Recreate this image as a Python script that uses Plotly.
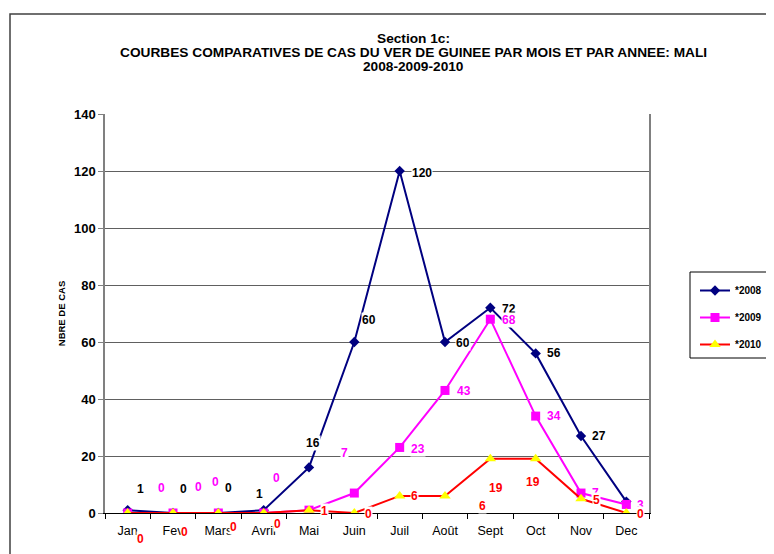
import plotly.graph_objects as go

months = ["Jan", "Fev", "Mars", "Avril", "Mai", "Juin", "Juil", "Août", "Sept", "Oct", "Nov", "Dec"]
cases_2008 = [1, 0, 0, 1, 16, 60, 120, 60, 72, 56, 27, 4]
cases_2009 = [0, 0, 0, 0, 1, 7, 23, 43, 68, 34, 7, 3]
cases_2010 = [0, 0, 0, 0, 1, 0, 6, 6, 19, 19, 5, 0]
series_names = ["*2008", "*2009", "*2010"]
y_ticks = [0, 20, 40, 60, 80, 100, 120, 140]
title_lines = ["Section 1c:",
               "COURBES COMPARATIVES DE CAS DU VER DE GUINEE PAR MOIS ET PAR ANNEE: MALI",
               "2008-2009-2010"]

# label pixel offsets (dx right, dy down); None = label hidden
off_2008 = [(13, -21), (10, -24), (10, -25), (-4, -16), (4, -24), (15, -22),
            (22, 2), (18, 1), (19, 1), (18, 0), (18, 0), None]
off_2009 = [(34, -25), (25, -26), (-3, -31), (13, -35), None, (-10, -40),
            (18, 2), (19, 1), (19, 1), (18, 0), (14, 0), (14, 1)]
off_2010 = [(13, 26), (11, 19), (15, 14), (14, 11), (15, 1), (14, 1),
            (15, 0), (37, 10), (6, 29), (-3, 23), (15, 1), (14, 1)]

FONT = "Liberation Sans, Arial, sans-serif"

# page body margin offset of the html
OFF = 8
FW, FH = 774 - OFF, 554 - OFF

fig = go.Figure()
fig.add_trace(go.Scatter(x=months, y=cases_2008, name=series_names[0], mode="lines+markers",
                         line=dict(color="#000080", width=2),
                         marker=dict(symbol="diamond", size=8, color="#000080"),
                         legendgroup="a"))
fig.add_trace(go.Scatter(x=months, y=cases_2009, name=series_names[1], mode="lines+markers",
                         line=dict(color="#FF00FF", width=2),
                         marker=dict(symbol="square", size=9, color="#FF00FF"),
                         legendgroup="b"))
fig.add_trace(go.Scatter(x=months, y=cases_2010, name=series_names[2], mode="lines+markers",
                         line=dict(color="#FF0000", width=2),
                         marker=dict(symbol="triangle-up", size=10, color="#FFFF00"),
                         legendgroup="c"))

# plot area in screen px: x 105..649, y 114..513
L, R, T, B = 105, 649, 114, 513
W, H = R - L, B - T
def px(xp):
    return (xp - L) / W
def py(yp):
    return (B - yp) / H

annotations = []
for vals, offs, col in [(cases_2008, off_2008, "#000000"),
                        (cases_2009, off_2009, "#FF00FF"),
                        (cases_2010, off_2010, "#FF0000")]:
    for m, v, o in zip(months, vals, offs):
        if o is None:
            continue
        annotations.append(dict(x=m, y=v, xref="x", yref="y", text=str(v), showarrow=False,
                                xshift=o[0], yshift=-o[1], bgcolor="white", borderpad=0,
                                font=dict(family=FONT, size=12, color=col, weight="bold")))

for line, yc in zip(title_lines, [38, 52.5, 67]):
    annotations.append(dict(x=px(413), y=py(yc), xref="paper", yref="paper", text=line,
                            showarrow=False, xanchor="center", yanchor="middle",
                            font=dict(family=FONT, size=13.7, color="#000000", weight="bold")))

shapes = [
    # outer chart border (extends beyond the image)
    dict(type="rect", xref="paper", yref="paper", x0=px(10), x1=px(800), y0=py(580), y1=py(14),
         line=dict(color="#404040", width=1.5), layer="below"),
    # legend box
    dict(type="rect", xref="paper", yref="paper", x0=px(690), x1=px(800), y0=py(358), y1=py(272),
         line=dict(color="#000000", width=1), layer="below"),
]

fig.update_layout(
    width=FW, height=FH,
    margin=dict(l=L - OFF, r=FW - (R - OFF), t=T - OFF, b=FH - (B - OFF), autoexpand=False),
    paper_bgcolor="white", plot_bgcolor="white",
    font=dict(family=FONT, color="#000000"),
    showlegend=True,
    legend=dict(x=px(695), y=py(276), xanchor="left", yanchor="top",
                bgcolor="rgba(0,0,0,0)", borderwidth=0,
                traceorder="grouped", tracegroupgap=8,
                font=dict(family=FONT, size=10, color="#000000", weight="bold")),
    annotations=annotations,
    shapes=shapes,
)
fig.update_xaxes(type="category", range=[-0.5, 11.5], showgrid=False,
                 showline=True, linecolor="#000000", linewidth=1,
                 ticks="outside", tickson="boundaries", ticklen=5, tickcolor="#000000",
                 ticklabelstandoff=6,
                 tickfont=dict(family=FONT, size=12.5, color="#000000"))
fig.update_yaxes(range=[0, 140], tickvals=y_ticks, showgrid=True, gridcolor="#606060", gridwidth=1,
                 showline=True, linecolor="#808080", linewidth=1.5, mirror=True,
                 ticks="outside", ticklen=5, tickcolor="#808080", zeroline=False,
                 tickfont=dict(family=FONT, size=13, color="#000000", weight="bold"),
                 title=dict(text="NBRE DE CAS", standoff=7,
                            font=dict(family=FONT, size=9.5, color="#000000", weight="bold")))

fig.write_html("out.html")
